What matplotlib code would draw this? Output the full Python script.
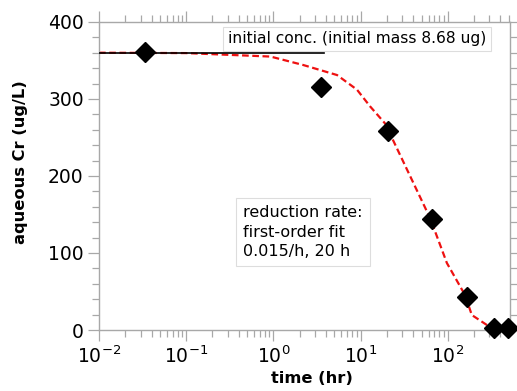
import matplotlib
matplotlib.use('Agg')
import matplotlib.pyplot as plt
from matplotlib.ticker import LogLocator, MultipleLocator, NullFormatter

plt.rcParams['font.family'] = ['DejaVu Sans']
plt.rcParams['mathtext.fontset'] = 'dejavusans'
plt.rcParams['mathtext.default'] = 'regular'

# measured aqueous Cr
obs_t = [0.034, 3.47, 20.8, 65.5, 165, 340, 490]
obs_c = [361, 315, 258, 144, 43, 2, 2]

# first-order fit curve
fit_t = [0.01, 0.1, 0.925, 2.2, 5.36, 9.08, 12.9, 19.1, 62.7, 97.4, 158, 188, 280, 331]
fit_c = [360, 359.5, 355, 344, 331, 312, 290, 268, 145, 87, 45, 19.5, 6.5, 2.6]

init_t = [0.01, 3.8]
init_c = [360, 360]

fig = plt.figure(figsize=(5.17, 3.91), dpi=100)
ax = fig.add_axes([0.1915, 0.156, 0.795, 0.788])

ax.plot(init_t, init_c, '-', color='black', lw=1.2, zorder=6)
ax.plot(fit_t, fit_c, '--', color='#ee1111', lw=1.6, dashes=(3, 1.6), zorder=2)
ax.plot(obs_t, obs_c, 'D', color='black', ms=10.5, clip_on=False, zorder=7)

ax.set_xscale('log')
ax.set_xlim(0.01, 516)
ax.set_ylim(0, 400)
ax.yaxis.set_major_locator(MultipleLocator(100))
ax.yaxis.set_minor_locator(MultipleLocator(20))
ax.xaxis.set_major_locator(LogLocator(base=10, numticks=10))
ax.xaxis.set_minor_locator(LogLocator(base=10, subs=range(2, 10), numticks=20))
ax.xaxis.set_minor_formatter(NullFormatter())

gray = '#a8a8a8'
for s in ax.spines.values():
    s.set_color(gray)
    s.set_linewidth(1.0)
ax.tick_params(which='both', direction='out', color=gray, top=True, right=True,
               labeltop=False, labelright=False, labelsize=13.5, width=0.9)
ax.tick_params(which='major', length=8, pad=3)
ax.tick_params(which='minor', length=5)

ax.set_xlabel('time (hr)', fontsize=11.7, fontweight='bold')
ax.set_ylabel('aqueous Cr (ug/L)', fontsize=11.7, fontweight='bold')
ax.xaxis.set_label_coords(0.5175, -0.133)
ax.yaxis.set_label_coords(-0.172, 0.544)

box1 = dict(boxstyle='square,pad=0.3', facecolor='white', edgecolor='#dddddd', lw=0.8)
box2 = dict(boxstyle='square,pad=0.45', facecolor='white', edgecolor='#dddddd', lw=0.8)
ax.text(0.30, 378, 'initial conc. (initial mass 8.68 ug)', fontsize=11.2,
        va='center', ha='left', bbox=box1, zorder=5)
ax.text(0.45, 127, 'reduction rate:\nfirst-order fit\n0.015/h, 20 h', fontsize=11.5,
        va='center', ha='left', linespacing=1.35, bbox=box2, zorder=5)

fig.savefig('out.png', dpi=100)
